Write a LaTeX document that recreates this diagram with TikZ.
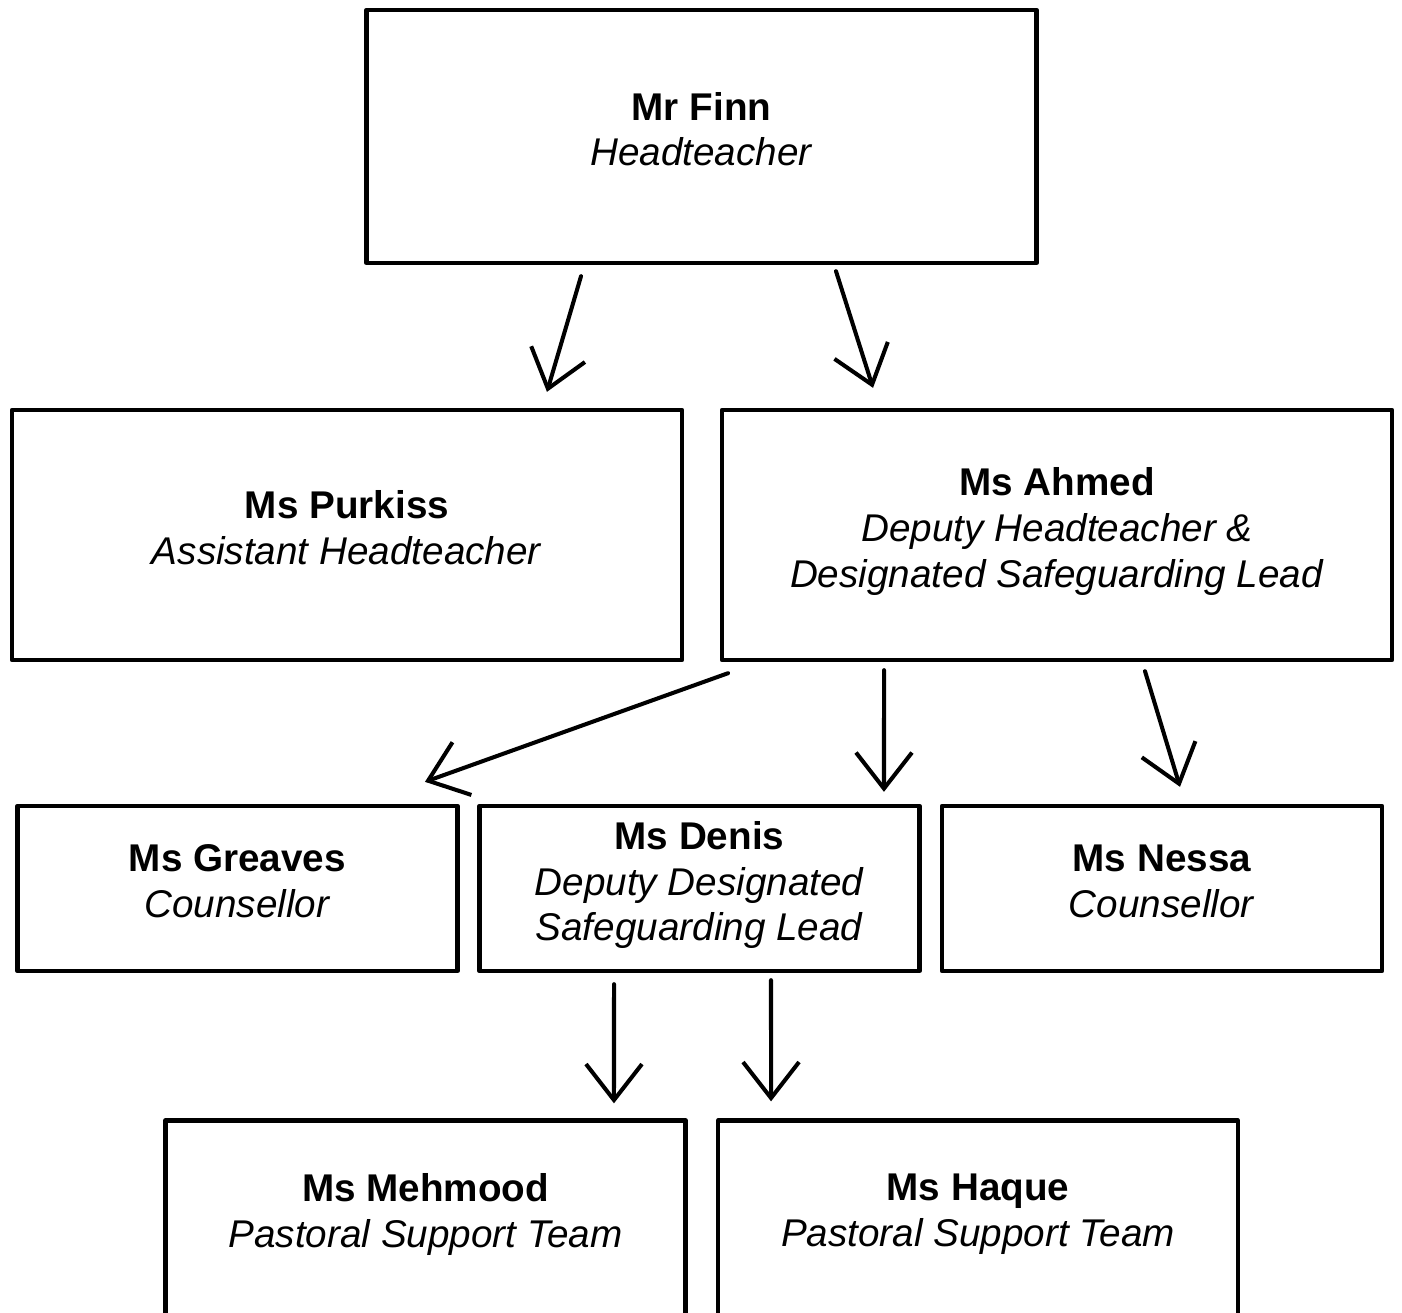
\documentclass[tikz,border=0pt]{standalone}
\usepackage{fontspec}
\setmainfont{Liberation Sans}
\usetikzlibrary{arrows.meta}
\begin{document}
\begin{tikzpicture}[x=0.02cm, y=-0.02cm, line join=round, line cap=round,
  box/.style={draw, line width=2.5pt, align=center, inner sep=0pt, text depth=0.3cm,
    font=\fontsize{22}{26}\selectfont},
  big/.style={box, minimum width=13.4cm, minimum height=5.0cm},
  mid/.style={box, minimum width=8.8cm, minimum height=3.3cm},
  low/.style={box, minimum width=10.4cm, minimum height=3.9cm},
  arr/.style={line width=2.3pt, -{Straight Barb[length=0.72cm, width=1.12cm, line width=2.3pt]}}]
\useasboundingbox (0,0) rectangle (1402,1312);
\clip (0,0) rectangle (1402,1312);
% boxes
\node[big, minimum height=5.06cm] (finn) at (701.5,136.5) {\textbf{Mr Finn}\\\textit{Headteacher}};
\node[big] (purkiss) at (347,535) {\textbf{Ms Purkiss}\\\textit{Assistant Headteacher}};
\node[big] (ahmed) at (1057,535) {\textbf{Ms Ahmed}\\\textit{Deputy Headteacher \&}\\\textit{Designated Safeguarding Lead}};
\node[mid] (greaves) at (237.5,888.5) {\textbf{Ms Greaves}\\\textit{Counsellor}};
\node[mid] (denis) at (699.5,888.5) {\textbf{Ms Denis}\\\textit{Deputy Designated}\\\textit{Safeguarding Lead}};
\node[mid] (nessa) at (1162,888.5) {\textbf{Ms Nessa}\\\textit{Counsellor}};
\node[low] (mehmood) at (425.5,1218) {\textbf{Ms Mehmood}\\\textit{Pastoral Support Team}};
\node[low] (haque) at (978,1218) {\textbf{Ms Haque}\\\textit{Pastoral Support Team}};
% arrows
\draw[arr] ([shift={(-2.41cm,-0.22cm)}]finn.south) -- ([shift={(4.0cm,0.32cm)}]purkiss.north);
\draw[arr] ([shift={(2.69cm,-0.12cm)}]finn.south) -- ([shift={(-3.68cm,0.4cm)}]ahmed.north);
\draw[arr] ([shift={(-6.58cm,-0.22cm)}]ahmed.south) -- ([shift={(3.75cm,0.44cm)}]greaves.north);
\draw[arr] ([shift={(-3.46cm,-0.16cm)}]ahmed.south) -- ([shift={(3.69cm,0.24cm)}]denis.north);
\draw[arr] ([shift={(1.76cm,-0.18cm)}]ahmed.south) -- ([shift={(0.36cm,0.34cm)}]nessa.north);
\draw[arr] ([shift={(-1.71cm,-0.22cm)}]denis.south) -- ([shift={(3.77cm,0.3cm)}]mehmood.north);
\draw[arr] ([shift={(1.43cm,-0.14cm)}]denis.south) -- ([shift={(-4.14cm,0.34cm)}]haque.north);
\end{tikzpicture}
\end{document}
